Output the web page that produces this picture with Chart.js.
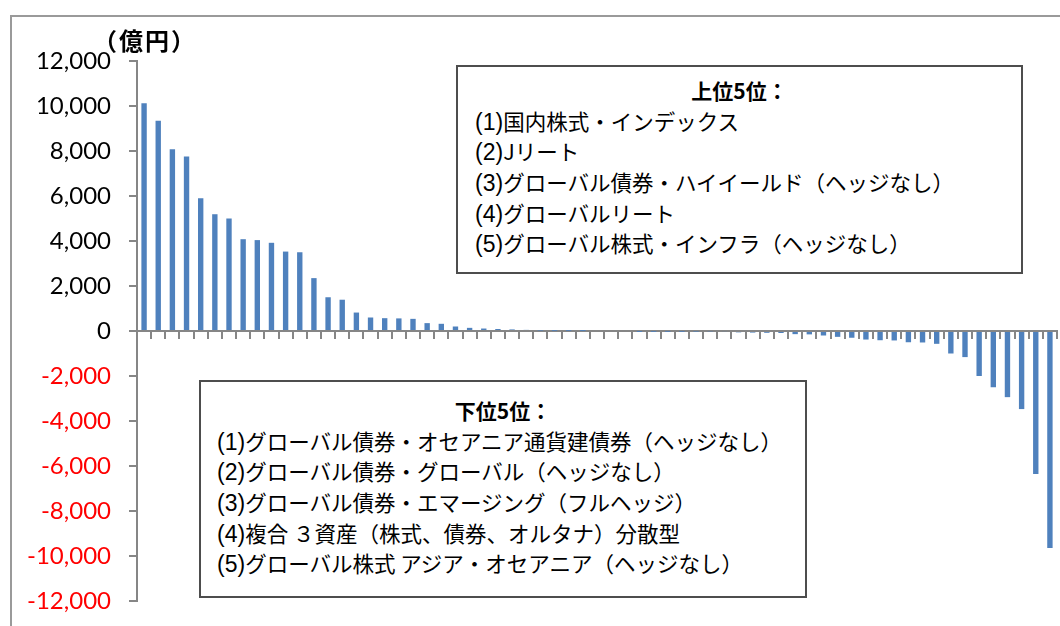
<!DOCTYPE html>
<html lang="ja">
<head>
<meta charset="utf-8">
<script src="https://cdn.jsdelivr.net/npm/chart.js@4/dist/chart.umd.min.js"></script>
<style>
  html, body { margin: 0; padding: 0; background: #fff; }
  body { width: 1060px; height: 626px; position: relative; overflow: hidden; }
  #frame {
    position: absolute; left: 10px; top: 15px; width: 1200px; height: 800px;
    border-left: 2px solid #9a9a9a; border-top: 2px solid #9a9a9a;
  }
  #chart { position: absolute; left: 0; top: 0; }
  #unit {
    position: absolute; left: 93px; top: 26px;
    font: bold 24px "Noto Sans CJK JP", sans-serif; line-height: 28px;
    letter-spacing: 2px; color: #000;
  }
  .box {
    position: absolute; background: #fff; border: 2px solid #4d4d4d;
    box-sizing: border-box; color: #000;
    font: 21.5px "Noto Sans CJK JP", sans-serif; white-space: nowrap;
  }
  .box div { height: 30.7px; line-height: 30.7px; overflow: visible; }
  .box .ttl { text-align: center; font-weight: bold; font-size: 21px; }
  .box .n { font-family: "Liberation Sans", sans-serif; font-size: 23px; line-height: 1; }
  #top5 { left: 456px; top: 65px; width: 567px; height: 209px; padding: 8px 0 0 17px; }
  #top5 .ttl { margin-left: -17px; }
  #bottom5 { left: 199px; top: 380px; width: 608px; height: 218px; padding: 13px 0 0 16px; }
  #bottom5 .ttl { margin-left: -16px; }
</style>
</head>
<body>
<div id="frame"></div>
<canvas id="chart" width="1060" height="626"></canvas>
<div id="unit">（億円）</div>
<div class="box" id="top5">
  <div class="ttl">上位5位：</div>
  <div><span class="n">(1)</span>国内株式・インデックス</div>
  <div><span class="n">(2)</span>Jリート</div>
  <div><span class="n">(3)</span>グローバル債券・ハイイールド（ヘッジなし）</div>
  <div><span class="n">(4)</span>グローバルリート</div>
  <div><span class="n">(5)</span>グローバル株式・インフラ（ヘッジなし）</div>
</div>
<div class="box" id="bottom5">
  <div class="ttl">下位5位：</div>
  <div><span class="n">(1)</span>グローバル債券・オセアニア通貨建債券（ヘッジなし）</div>
  <div><span class="n">(2)</span>グローバル債券・グローバル（ヘッジなし）</div>
  <div><span class="n">(3)</span>グローバル債券・エマージング（フルヘッジ）</div>
  <div><span class="n">(4)</span>複合 ３資産（株式、債券、オルタナ）分散型</div>
  <div><span class="n">(5)</span>グローバル株式 アジア・オセアニア（ヘッジなし）</div>
</div>
<script>
// 資金流出入（億円）、カテゴリ順位 1〜65
const flows = [
  10120, 9340, 8080, 7760, 5900, 5190, 5000, 4080, 4040, 3920,
  3530, 3500, 2350, 1500, 1390, 820, 600, 570, 560, 540,
  350, 320, 200, 140, 110, 90, 70, 50, 20, 10,
  10, 5, 0, 0, 0, -5, -10, -10, -10, -20,
  -30, -40, -60, -70, -80, -90, -140, -150, -200, -260,
  -300, -380, -410, -420, -500, -510, -570, -1000, -1160, -2000,
  -2500, -2940, -3470, -6360, -9640
];
const ranks = flows.map((_, i) => String(i + 1));
const yMin = -12000;
const yMax = 12000;
const yStep = 2000;

const axisGray = '#868686';

const ctx = document.getElementById('chart').getContext('2d');
const chart = new Chart(ctx, {
  type: 'bar',
  data: {
    labels: ranks,
    datasets: [{
      data: flows,
      backgroundColor: '#4f81bd',
      borderWidth: 0,
      categoryPercentage: 1,
      barPercentage: 0.38
    }]
  },
  options: {
    responsive: false,
    animation: false,
    devicePixelRatio: 1,
    layout: { padding: { left: 0, top: 61, right: 3, bottom: 25 } },
    plugins: { legend: { display: false }, tooltip: { enabled: false } },
    scales: {
      x: {
        position: { y: 0 },
        grid: { offset: true, drawOnChartArea: false, tickLength: 7, color: axisGray, lineWidth: 2 },
        border: { color: axisGray, width: 2 },
        ticks: { display: false }
      },
      y: {
        min: yMin,
        max: yMax,
        afterFit: (scale) => {
          // fixed axis width; label overflow is covered by the layout padding
          scale.width = 137;
          scale.paddingTop = 0;
          scale.paddingBottom = 0;
        },
        grid: { drawOnChartArea: false, tickLength: 8, color: axisGray, lineWidth: 2 },
        border: { color: axisGray, width: 2 },
        ticks: {
          stepSize: yStep,
          padding: 18,
          font: { family: 'Lato', size: 24 },
          color: (c) => c.tick.value < 0 ? '#ff0000' : '#000000',
          callback: (v) => v.toLocaleString('en-US')
        }
      }
    }
  }
});
</script>
</body>
</html>
